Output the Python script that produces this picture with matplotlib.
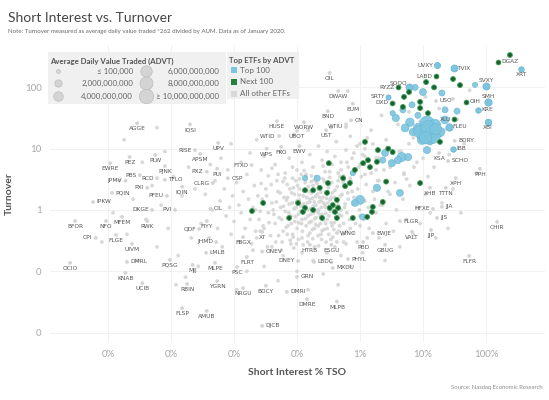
import matplotlib
matplotlib.use("Agg")
import matplotlib.pyplot as plt
from matplotlib.patches import Rectangle
from matplotlib.ticker import FixedLocator, FuncFormatter
import numpy as np

plt.rcParams['font.family'] = ['Lato', 'DejaVu Sans']

# labelled ETFs: short interest % TSO, turnover, group, ADVT
label_names = ['DGAZ', 'XRT', 'UVXY', 'TVIX', 'SVXY', 'SMH', 'KRE', 'XBI', 'OIH', 'FLEU',
               'XLU', 'USO', 'LABD', 'SOQQ', 'RYZZ', 'SRTY', 'DXD', 'IBB', 'BDRY', 'KSA',
               'SCHO', 'PPH', 'XPH', 'XHB', 'TTTN', 'HFXE', 'JJA', 'JJS', 'FLGR', 'VALT',
               'JJP', 'CHIR', 'FLFR', 'WINC', 'EWJE', 'PBD', 'GBUG', 'HTRB', 'ESGU', 'DNEY',
               'LBDC', 'PHYL', 'MXDU', 'GRN', 'DMRI', 'DMRE', 'MLPB', 'DJCB', 'BDCY', 'NRGU',
               'YGRN', 'RBIN', 'FLSP', 'AMUB', 'PQSG', 'MJJ', 'MLPE', 'PSC', 'FLRT', 'OCIO',
               'DMRL', 'KNAB', 'UCIB', 'LMLB', 'ONEV', 'JHMD', 'FBGX', 'XT', 'CPI', 'FLGE',
               'UIVM', 'BFOR', 'NFO', 'MFEM', 'RWK', 'QDF', 'FIYY', 'CIL', 'IPKW', 'DKGE',
               'PVI', 'PQIN', 'PXI', 'PFEU', 'JPMV', 'TFLO', 'CLRG', 'IQIN', 'PBS', 'RCD',
               'PJNK', 'PXZ', 'PUI', 'CSP', 'FTXO', 'EWRE', 'PEZ', 'PLW', 'RISE', 'APSM',
               'UPV', 'AGGE', 'IQSI', 'WPS', 'FKO', 'EWV', 'WTID', 'HUSE', 'WORW', 'UBOT',
               'UST', 'WTIU', 'BND', 'CN', 'EUM', 'DWAW', 'OIL']
label_si = [155, 360, 16.7, 31, 100, 108, 75, 108, 48, 25.9,
            31, 16.1, 16.1, 6.0, 4.0, 2.8, 3.2, 30, 32, 18,
            25, 80, 33, 12.9, 23, 14.4, 20, 16.7, 4.3, 6.7,
            13.4, 150, 54, 0.43, 1.6, 1.12, 2.5, 0.16, 0.35, 0.104,
            0.186, 0.645, 0.37, 0.1, 0.069, 0.144, 0.43, 0.028, 0.032, 0.0139,
            0.0054, 0.0018, 0.0015, 0.0037, 0.00096, 0.0022, 0.005, 0.0112, 0.016, 2.5e-5,
            2.0e-4, 1.9e-4, 3.5e-4, 0.0036, 0.028, 0.0052, 0.0139, 0.028, 6.4e-5, 1.34e-4,
            2.4e-4, 3.0e-5, 9.3e-5, 1.67e-4, 4.2e-4, 0.0028, 0.0037, 0.0042, 5.8e-5, 5.0e-4,
            0.00116, 1.16e-4, 4.2e-4, 8.6e-4, 1.9e-4, 8.0e-4, 0.0046, 0.0015, 3.2e-4, 6.0e-4,
            8.0e-4, 0.0037, 0.0054, 0.008, 0.019, 1.08e-4, 2.2e-4, 5.6e-4, 0.0024, 0.0029,
            0.0056, 2.9e-4, 0.002, 0.033, 0.056, 0.11, 0.052, 0.048, 0.129, 0.1,
            0.29, 0.6, 0.31, 0.72, 0.77, 0.45, 0.33]
label_turn = [260, 200, 232, 207, 105, 58, 43, 27, 58, 22.6,
              30.5, 60, 153, 100, 100, 70, 56, 9.9, 13.4, 8.5,
              6.3, 4.7, 3.3, 2.3, 2.3, 1.04, 1.12, 0.74, 0.66, 0.44,
              0.47, 0.64, 0.178, 0.42, 0.42, 0.30, 0.27, 0.27, 0.27, 0.147,
              0.142, 0.158, 0.113, 0.081, 0.046, 0.035, 0.032, 0.0128, 0.058, 0.053,
              0.069, 0.062, 0.025, 0.0225, 0.153, 0.127, 0.137, 0.117, 0.171, 0.137,
              0.142, 0.094, 0.064, 0.20, 0.21, 0.30, 0.36, 0.44, 0.35, 0.39,
              0.28, 0.66, 0.66, 0.77, 0.66, 0.49, 0.66, 1.04, 1.35, 1.0,
              1.0, 1.9, 2.3, 1.7, 3.0, 3.1, 2.75, 2.4, 3.7, 3.3,
              5.2, 4.2, 4.7, 3.3, 5.4, 5.8, 7.3, 7.9, 9.5, 8.2,
              12.4, 26, 25, 10, 10.7, 11, 16.1, 28, 27, 19.5,
              20, 22.6, 41, 29, 54, 87, 172]
label_group = ['next', 'top', 'top', 'top', 'top', 'top', 'top', 'top', 'next', 'top',
               'next', 'other', 'next', 'top', 'next', 'top', 'next', 'top'] + ['other'] * 99
label_advt = [5e8, 8e8, 1.2e9, 1.8e9, 1.8e9, 2e9, 8e8, 1.5e9, 5e8, 2e9,
              5e8, 0, 5e8, 1.8e9, 5e8, 6e8, 5e8, 8e8] + [0] * 99
# where each label sits relative to its dot
label_side = ['r', 'b', 'l', 'r', 'a', 'a', 'r', 'b', 'r', 'r',
              'l', 'r', 'l', 'al', 'l', 'l', 'l', 'r', 'r', 'b',
              'r', 'b', 'b', 'b', 'b', 'l', 'r', 'r', 'r', 'b',
              'b', 'b', 'b', 'r', 'r', 'b', 'b', 'b', 'b', 'l',
              'r', 'r', 'r', 'r', 'r', 'b', 'b', 'r', 'b', 'b',
              'b', 'b', 'b', 'b', 'b', 'b', 'b', 'b', 'b', 'b',
              'r', 'b', 'b', 'r', 'r', 'l', 'b', 'b', 'l', 'b',
              'b', 'b', 'b', 'b', 'b', 'l', 'b', 'r', 'r', 'l',
              'l', 'r', 'l', 'l', 'l', 'r', 'l', 'b', 'l', 'l',
              'b', 'l', 'b', 'r', 'l', 'b', 'b', 'b', 'l', 'b',
              'b', 'b', 'b', 'b', 'b', 'b', 'l', 'b', 'b', 'b',
              'b', 'l', 'b', 'r', 'b', 'b', 'b']

# Top 100 by ADVT (unlabelled)
top_si = [34.7, 11.6, 13.9, 10, 8.3, 18.6, 12.9, 6.2, 6.9, 11.6,
          7.5, 10, 20, 4.8, 3.3, 4.6, 5.8, 4.0, 2.5, 2.3,
          3.2, 1.86, 1.0, 0.83, 4.3, 1.1, 0.77, 0.21, 0.134, 67,
          3.7, 5.2, 8.3, 15.5, 9.6, 22.4, 6.7, 22.4, 14.5, 9.0,
          12.0, 16, 11]
top_turn = [41, 26, 18, 16.7, 21.8, 18.7, 13.9, 27, 18.7, 9.5,
            100, 84, 81, 43, 38, 7.3, 7.3, 6.5, 8.5, 6.5,
            5.8, 2.3, 1.46, 1.3, 1.9, 0.77, 4.0, 3.3, 3.3, 110,
            31.7, 21.8, 35, 24.4, 13.9, 29.5, 52, 43, 16, 19,
            22, 21, 15]
top_advt = [1.2e9, 1.0e10, 1.2e10, 7e9, 3.5e9, 4e9, 4e9, 3e9, 2e9, 2e9,
            1.2e9, 1.8e9, 1.2e9, 1.2e9, 7e8, 3.5e9, 2e9, 2e9, 1.8e9, 1.2e9,
            2e9, 2e9, 3.5e9, 1.8e9, 1.8e9, 1.2e9, 8e8, 1.2e9, 8e8, 7e8,
            2e9, 2.5e9, 1.2e9, 6e9, 3.5e9, 2.5e9, 1.2e9, 1.2e9, 1.0e10, 8e9,
            1.0e10, 6e9, 7e9]

# Next 100 by ADVT (unlabelled)
next_si = [240, 11.2, 30, 38.7, 15, 6.0, 5.0, 4.8, 9.0, 9.0,
           12, 18.6, 1.2, 1.93, 2.8, 3.3, 1.34, 1.86, 1.12, 1.44,
           0.83, 0.54, 0.69, 2.6, 9.0, 2.3, 1.6, 0.37, 0.45, 0.40,
           0.77, 1.55, 0.0193, 0.029, 0.075, 0.32, 0.134, 0.18, 0.23, 0.30,
           0.104, 0.134, 0.124, 0.18, 0.25, 0.33, 0.43, 0.58, 0.31, 0.43, 1.3]
next_turn = [338, 122, 137, 109, 100, 84, 70, 48, 58, 46,
             38, 12.9, 12.9, 9.5, 10, 8.8, 6.5, 6.1, 5.8, 5.0,
             4.5, 3.3, 2.75, 2.9, 2.75, 1.35, 1.12, 1.2, 1.08, 0.93,
             0.74, 0.93, 0.96, 1.3, 0.74, 5.8, 2.1, 2.1, 2.3, 1.9,
             1.3, 1.08, 0.93, 1.0, 0.74, 1.08, 0.74, 2.45, 2.75, 1.46, 0.77]
next_advt = 5e8

# all other ETFs (unlabelled)
other_si = [0.035, 0.04, 0.045, 0.05, 0.052, 0.055, 0.06, 0.062, 0.065, 0.07,
            0.072, 0.075, 0.08, 0.082, 0.085, 0.09, 0.092, 0.095, 0.1, 0.1,
            0.105, 0.11, 0.115, 0.12, 0.12, 0.125, 0.13, 0.135, 0.14, 0.145,
            0.15, 0.155, 0.16, 0.165, 0.17, 0.175, 0.18, 0.185, 0.19, 0.2,
            0.2, 0.21, 0.215, 0.22, 0.23, 0.235, 0.24, 0.25, 0.26, 0.27,
            0.28, 0.29, 0.3, 0.31, 0.32, 0.33, 0.34, 0.35, 0.36, 0.38,
            0.4, 0.42, 0.44, 0.46, 0.48, 0.5, 0.52, 0.55, 0.58, 0.6,
            0.025, 0.028, 0.03, 0.032, 0.038, 0.042, 0.048, 0.058, 0.068, 0.078,
            0.088, 0.098, 0.108, 0.118, 0.128, 0.138, 0.148, 0.158, 0.168, 0.178,
            0.188, 0.198, 0.208, 0.218, 0.228, 0.245, 0.265, 0.285, 0.305, 0.325,
            0.345, 0.365, 0.39, 0.41, 0.43, 0.47, 0.53, 0.62, 0.65, 0.7, 0.75,
            # dense core, second pass
            0.022, 0.026, 0.033, 0.036, 0.039, 0.043, 0.047, 0.051, 0.054, 0.057,
            0.061, 0.064, 0.067, 0.071, 0.074, 0.077, 0.081, 0.084, 0.087, 0.091,
            0.094, 0.097, 0.102, 0.106, 0.109, 0.113, 0.117, 0.122, 0.126, 0.131,
            0.136, 0.141, 0.146, 0.151, 0.156, 0.161, 0.166, 0.171, 0.176, 0.181,
            0.186, 0.192, 0.196, 0.203, 0.211, 0.217, 0.224, 0.232, 0.238, 0.243,
            0.251, 0.258, 0.263, 0.272, 0.278, 0.287, 0.295, 0.302, 0.315, 0.322,
            0.335, 0.348, 0.355, 0.372, 0.385, 0.395, 0.415, 0.435, 0.45, 0.475,
            0.49, 0.51, 0.54, 0.57, 0.61, 0.64, 0.68, 0.72, 0.78, 0.85,
            0.92, 0.98, 1.05, 1.15, 1.25, 1.35, 1.5, 1.7, 1.9, 2.1,
            2.4, 2.8, 3.2, 3.6, 4.2, 5.0, 6.0, 7.2, 8.5, 10,
            0.5, 0.62, 0.8, 1.0, 1.3, 0.7, 0.95, 1.2, 0.45, 0.33,
            0.26, 0.2, 0.17, 0.13, 0.11, 0.085, 0.06, 0.05, 0.04, 0.027,
            0.023, 0.034, 0.046, 0.056, 0.07, 0.089, 0.105, 0.125, 0.15, 0.19,
            0.24, 0.29, 0.37, 0.55, 0.8, 1.0, 1.3,
            # upper core
            0.1, 0.12, 0.14, 0.16, 0.18, 0.2, 0.22, 0.25, 0.28, 0.3,
            0.33, 0.36, 0.4, 0.42, 0.45, 0.5, 0.55, 0.6, 0.65, 0.7,
            0.75, 0.8, 0.9, 1.0, 1.1, 1.2, 1.4, 1.6, 1.8, 2.0,
            0.065, 0.075, 0.085, 0.045, 0.055, 0.035, 0.03, 0.09, 0.15, 0.35, 0.6, 0.64,
            # left
            0.003, 0.0035, 0.004, 0.0045, 0.005, 0.0055, 0.006, 0.0065, 0.007, 0.0075,
            0.008, 0.0085, 0.009, 0.0095, 0.01, 0.011, 0.012, 0.012, 0.013, 0.014,
            0.015, 0.016, 0.017, 0.018, 0.019, 0.02, 0.021, 0.022, 0.024, 0.026,
            0.027, 0.029, 0.0042, 0.0062, 0.013, 0.018, 0.009, 0.023,
            # far left
            0.00012, 0.00015, 0.0002, 0.00025, 0.0003, 0.00035, 0.0004, 0.0005, 0.0006, 0.0007,
            0.0008, 0.0009, 0.0011, 0.0013, 0.0015, 0.0017, 0.0019, 0.0021, 0.0024, 0.0027,
            0.00018, 0.0006, 0.0012, 0.00008,
            # lower right
            1.0, 1.2, 1.4, 1.6, 1.8, 2.0, 2.3, 2.6, 3.0, 3.4,
            3.8, 4.3, 4.8, 5.5, 6.2, 7.0, 8.0, 9.0, 11, 13,
            16, 20, 25, 30, 40, 1.1, 2.5, 0.9, 0.8,
            # upper right
            1.2, 1.5, 1.8, 2.2, 2.6, 3.0, 3.5, 4.0, 4.5, 5.0,
            6, 7, 8, 9, 11, 13, 15, 18, 22, 26,
            30, 35, 45, 55, 70, 2.0, 5.5, 12,
            # lower middle
            0.02, 0.03, 0.04, 0.05, 0.06, 0.08, 0.1, 0.12, 0.15, 0.18,
            0.22, 0.26, 0.3, 0.35, 0.4, 0.45, 0.5, 0.6, 0.7, 0.016, 0.011]
other_turn = [0.9, 1.3, 0.6, 2.0, 0.75, 1.1, 0.45, 1.6, 0.95, 2.6,
              0.55, 1.25, 0.8, 1.9, 0.4, 1.05, 0.65, 3.0, 1.4, 0.5,
              0.85, 2.2, 1.15, 0.35, 0.7, 1.7, 0.95, 2.8, 0.55, 1.3,
              0.8, 2.0, 0.42, 1.05, 0.65, 1.55, 2.5, 0.9, 0.5, 1.2,
              0.75, 1.8, 0.38, 1.0, 2.3, 0.6, 1.4, 0.85, 3.2, 0.48,
              1.1, 1.9, 0.7, 1.3, 0.4, 2.6, 0.95, 1.6, 0.55, 1.15,
              2.1, 0.75, 1.4, 0.45, 3.5, 1.0, 1.8, 0.6, 1.25, 2.4,
              0.7, 1.5, 0.5, 2.2, 0.38, 1.0, 3.0, 0.3, 1.45, 0.32,
              2.3, 0.28, 1.75, 0.6, 1.2, 3.6, 0.3, 1.5, 2.9, 0.34,
              1.35, 0.58, 2.7, 0.9, 1.6, 0.33, 1.3, 0.6, 2.0, 1.05,
              0.33, 1.9, 0.62, 1.1, 0.3, 0.85, 0.4, 0.9, 1.5, 0.5, 2.0,
              # dense core, second pass
              1.0, 0.45, 1.7, 0.62, 2.6, 0.85, 1.35, 0.38, 1.9, 0.7,
              1.15, 3.3, 0.52, 1.6, 0.9, 2.2, 0.6, 1.3, 0.36, 1.8,
              0.78, 1.1, 2.5, 0.62, 1.45, 0.95, 3.8, 0.45, 1.25, 2.1,
              0.72, 1.6, 1.0, 2.4, 0.62, 1.35, 0.85, 1.9, 0.48, 1.15,
              3.1, 0.72, 1.65, 0.98, 2.2, 0.55, 1.35, 0.8, 1.95, 1.1,
              0.46, 1.6, 0.68, 2.9, 1.2, 0.88, 1.55, 0.5, 2.3, 0.8,
              1.45, 0.62, 2.8, 1.0, 0.48, 1.6, 0.9, 2.4, 1.2, 0.55,
              1.7, 0.8, 2.8, 1.1, 0.45, 1.9, 0.7, 3.0, 1.3, 0.6,
              2.2, 1.0, 3.5, 0.7, 2.6, 1.1, 4.0, 1.5, 3.0, 1.2,
              4.5, 2.0, 6.0, 2.8, 9.0, 3.8, 12, 5.0, 18, 7.0,
              4.5, 6.0, 8.5, 12, 15, 3.3, 5.0, 7.5, 3.0, 4.2,
              5.2, 2.9, 3.6, 4.4, 3.2, 5.0, 2.9, 3.8, 4.8, 2.7,
              0.35, 0.25, 0.3, 0.22, 0.4, 0.24, 0.33, 0.27, 0.38, 0.25,
              0.4, 0.3, 0.36, 0.3, 0.42, 0.55, 0.35,
              # upper core
              4.5, 6.0, 3.8, 8.0, 5.0, 3.5, 11, 6.5, 4.2, 9.0,
              3.4, 5.5, 7.5, 13, 4.0, 6.0, 3.6, 9.5, 5.0, 16,
              7.0, 4.2, 11, 5.5, 8.0, 3.8, 6.5, 12, 4.5, 7.0,
              4.0, 7.0, 3.3, 5.5, 9.0, 3.6, 7.5, 17, 20, 22, 25, 87,
              # left
              0.6, 1.8, 0.35, 1.0, 3.0, 0.5, 1.4, 0.25, 2.2, 0.8,
              4.5, 1.1, 0.4, 1.7, 0.65, 2.8, 0.3, 1.2, 0.9, 2.0,
              0.5, 3.8, 1.5, 0.7, 0.28, 1.1, 2.5, 0.45, 1.7, 0.95,
              4.5, 0.55, 5.5, 7.0, 6.0, 8.5, 12, 14,
              # far left
              0.9, 3.0, 0.4, 1.5, 0.15, 6.0, 0.7, 2.5, 0.25, 1.2,
              9.0, 0.5, 3.5, 0.18, 1.7, 0.08, 5.0, 0.35, 2.2, 0.12,
              14, 22, 0.06, 0.3,
              # lower right
              0.8, 1.4, 0.5, 2.0, 0.9, 0.35, 1.2, 0.6, 1.8, 0.45,
              1.0, 0.25, 1.5, 0.7, 2.5, 0.4, 1.1, 0.6, 1.8, 0.9,
              0.35, 1.3, 0.5, 2.2, 0.9, 0.2, 0.15, 0.3, 1.6,
              # upper right
              10, 20, 7, 35, 14, 5, 55, 25, 9, 4,
              40, 15, 6, 28, 70, 12, 5, 45, 20, 8,
              65, 30, 12, 90, 4, 3.0, 3.2, 3.5,
              # lower middle
              0.22, 0.12, 0.25, 0.07, 0.18, 0.28, 0.1, 0.2, 0.05, 0.15,
              0.26, 0.09, 0.2, 0.14, 0.25, 0.06, 0.18, 0.28, 0.12, 0.1, 0.05]
other_advt = 0

legend_advt = [1e5, 2e9, 4e9, 6e9, 8e9, 1e10]
legend_advt_text = ['\u2264 100,000', '2,000,000,000', '4,000,000,000',
                    '6,000,000,000', '8,000,000,000', '\u2265 10,000,000,000']
group_names = ['Top 100', 'Next 100', 'All other ETFs']

colors = {'top': '#7cc5df', 'next': '#1d5e34', 'other': '#d5d5d5'}
edges = {'top': '#62b3d2', 'next': '#3aa655', 'other': 'none'}
zord = {'other': 2, 'top': 3, 'next': 4}


def advt_size(v):
    v = np.minimum(np.asarray(v, dtype=float), 1e10)
    return 7.5 + 100 * v / 1e10


fig = plt.figure(figsize=(5.49, 4.0), dpi=100)
ax = fig.add_axes([50 / 549, 58 / 400, 495 / 549, 297 / 400])
ax.set_xscale('log')
ax.set_yscale('log')
ax.set_xlim(1.2e-5, 865)
ax.set_ylim(0.007, 492)

ax.scatter(other_si, other_turn, s=advt_size(np.full(len(other_si), other_advt)),
           c=colors['other'], edgecolors='none', alpha=0.9, zorder=2)
ax.scatter(top_si, top_turn, s=advt_size(top_advt), c=colors['top'],
           edgecolors=edges['top'], linewidths=0.4, alpha=0.9, zorder=3)
ax.scatter(next_si, next_turn, s=advt_size(np.full(len(next_si), next_advt)),
           c=colors['next'], edgecolors=edges['next'], linewidths=0.6, zorder=4)

offsets = {'l': (-2.4, 0, 'right', 'center'), 'r': (2.4, 0, 'left', 'center'),
           'a': (0, 2.2, 'center', 'bottom'), 'b': (0, -2.2, 'center', 'top'),
           'al': (-1.0, 1.5, 'right', 'bottom')}
for name, xv, yv, grp, adv, side in zip(label_names, label_si, label_turn,
                                       label_group, label_advt, label_side):
    ax.scatter([xv], [yv], s=advt_size(adv), c=colors[grp], edgecolors=edges[grp],
               linewidths=0.5 if grp != 'other' else 0, zorder=zord[grp])
    dx, dy, ha, va = offsets[side]
    ax.annotate(name, (xv, yv), xytext=(dx, dy), textcoords='offset points',
                ha=ha, va=va, fontsize=4.2, color='#555555', zorder=6,
                family=['Liberation Sans Narrow', 'DejaVu Sans'])

ax.xaxis.set_major_locator(FixedLocator([1e-4, 1e-3, 1e-2, 1e-1, 1, 10, 100]))
ax.xaxis.set_minor_locator(FixedLocator([]))
ax.xaxis.set_major_formatter(FuncFormatter(lambda v, p: f"{v:.0f}%"))
ax.yaxis.set_major_locator(FixedLocator([0.01, 0.1, 1, 10, 100]))
ax.yaxis.set_minor_locator(FixedLocator([]))
ax.yaxis.set_major_formatter(FuncFormatter(lambda v, p: f"{v:.0f}"))
ax.tick_params(length=0, labelsize=7, labelcolor='#a8a8a8', pad=6)
ax.grid(True, color='#f1f1f1', linewidth=0.7, zorder=0)
ax.set_axisbelow(True)
for sp in ax.spines.values():
    sp.set_visible(False)
ax.set_xlabel('Short Interest % TSO', fontsize=7.5, color='#555555',
              fontweight='bold', labelpad=6)
ax.set_ylabel('Turnover', fontsize=7.5, color='#555555', fontweight='bold', labelpad=8)

# overlay in pixel coordinates for titles and legends
ov = fig.add_axes([0, 0, 1, 1], zorder=10)
ov.set_xlim(0, 549)
ov.set_ylim(400, 0)
ov.axis('off')
ov.patch.set_alpha(0)

ov.text(8, 18, 'Short Interest vs. Turnover', fontsize=10, color='#444444', va='center')
ov.text(8, 32, 'Note: Turnover measured as average daily value traded *262 divided by AUM. '
        'Data as of January 2020.', fontsize=4.4, color='#666666', va='center')

ov.add_patch(Rectangle((48, 52), 178, 52, facecolor='#f0f0f0', edgecolor='none', alpha=0.95))
ov.add_patch(Rectangle((227, 52), 72, 47, facecolor='#f0f0f0', edgecolor='none', alpha=0.95))
ov.text(50, 61, 'Average Daily Value Traded (ADVT)', fontsize=5.6, fontweight='bold',
        color='#555555', va='center')
rows = [71, 83, 96]
for i, (v, t) in enumerate(zip(legend_advt, legend_advt_text)):
    cx = 58 if i < 3 else 146
    tx = 133 if i < 3 else 219
    yy = rows[i % 3]
    ov.scatter([cx], [yy], s=advt_size(v), c='#d4d4d4', edgecolors='#bdbdbd', linewidths=0.5)
    ov.text(tx, yy, t, fontsize=5.8, color='#666666', ha='right', va='center')

ov.text(229, 61, 'Top ETFs by ADVT', fontsize=5.6, fontweight='bold', color='#555555',
        va='center')
sq_colors = ['#7cc5df', '#26813f', '#d8d8d8']
for i, (g, col) in enumerate(zip(group_names, sq_colors)):
    yy = 70 + i * 12
    ov.scatter([234], [yy], marker='s', s=22, c=col, edgecolors='none')
    ov.text(240, yy, g, fontsize=5.8, color='#666666', va='center')

ov.text(543, 388, 'Source: Nasdaq Economic Research', fontsize=4.2, color='#8a8a8a',
        ha='right', va='center')

fig.savefig('out.png', dpi=100)
